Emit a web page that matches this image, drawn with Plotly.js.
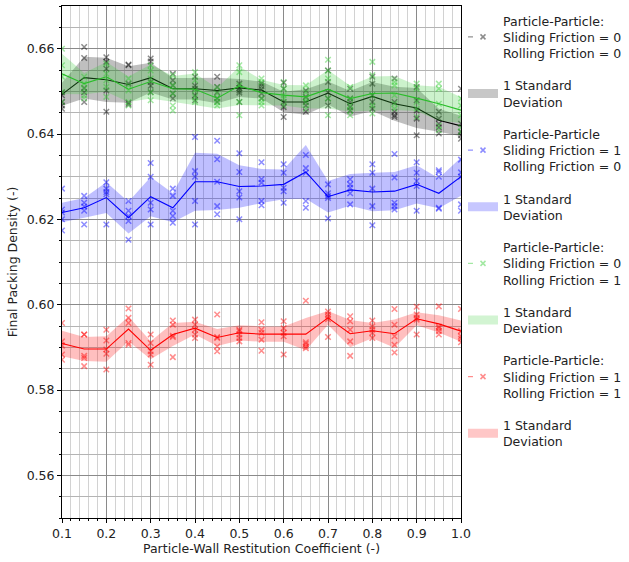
<!DOCTYPE html>
<html>
<head>
<meta charset="utf-8">
<script src="https://cdn.plot.ly/plotly-3.0.1.min.js"></script>
<style>html,body{margin:0;padding:0;background:#fff;}#chart{width:629px;height:562px;}</style>
</head>
<body>
<div id="chart"></div>
<script>
// Particle-wall restitution coefficient (x)
const restitution = [0.1, 0.15, 0.2, 0.25, 0.3, 0.35, 0.4, 0.45, 0.5, 0.55, 0.6, 0.65, 0.7, 0.75, 0.8, 0.85, 0.9, 0.95, 1.0];

// Sliding 0 / Rolling 0 (black)
const meanS0R0 = [0.6493, 0.6532, 0.6527, 0.6516, 0.6532, 0.6506, 0.6506, 0.6502, 0.6508, 0.6503, 0.6475, 0.6475, 0.6496, 0.6471, 0.6488, 0.6471, 0.6461, 0.6432, 0.6419];
const stdS0R0 = [0.0027, 0.0049, 0.0052, 0.0043, 0.0035, 0.0025, 0.0025, 0.0030, 0.0021, 0.0020, 0.0024, 0.0030, 0.0027, 0.0030, 0.0034, 0.0040, 0.0047, 0.0027, 0.0024];
const runsS0R0 = [
  [0.6498, 0.6491, 0.6475, 0.6467, 0.6459],
  [0.6604, 0.6578, 0.6508, 0.6498, 0.6475],
  [0.6580, 0.6569, 0.6553, 0.6502, 0.6452],
  [0.6563, 0.6561, 0.6518, 0.6473, 0.6469],
  [0.6577, 0.6570, 0.6522, 0.6513, 0.6498],
  [0.6541, 0.6526, 0.6514, 0.6495, 0.6483],
  [0.6534, 0.6513, 0.6506, 0.6491, 0.6479],
  [0.6534, 0.6510, 0.6498, 0.6484, 0.6475],
  [0.6518, 0.6508, 0.6502, 0.6497, 0.6475],
  [0.6518, 0.6512, 0.6505, 0.6495, 0.6483],
  [0.6520, 0.6506, 0.6475, 0.6463, 0.6440],
  [0.6502, 0.6487, 0.6475, 0.6467, 0.6452],
  [0.6549, 0.6522, 0.6498, 0.6483, 0.6467],
  [0.6506, 0.6483, 0.6475, 0.6463, 0.6455],
  [0.6534, 0.6518, 0.6491, 0.6475, 0.6459],
  [0.6530, 0.6475, 0.6452, 0.6444, 0.6440],
  [0.6510, 0.6479, 0.6455, 0.6436, 0.6397],
  [0.6452, 0.6436, 0.6424, 0.6416, 0.6401],
  [0.6506, 0.6424, 0.6405, 0.6397, 0.6389]
];

// Sliding 1 / Rolling 0 (blue)
const meanS1R0 = [0.6216, 0.6227, 0.6251, 0.6204, 0.6253, 0.6227, 0.6288, 0.6288, 0.6277, 0.6278, 0.6282, 0.6311, 0.6253, 0.6269, 0.6264, 0.6266, 0.6282, 0.6261, 0.6300];
const stdS1R0 = [0.0023, 0.0023, 0.0036, 0.0037, 0.0046, 0.0034, 0.0068, 0.0066, 0.0050, 0.0040, 0.0035, 0.0063, 0.0037, 0.0037, 0.0045, 0.0045, 0.0045, 0.0035, 0.0045];
const runsS1R0 = [
  [0.6272, 0.6223, 0.6216, 0.6200, 0.6174],
  [0.6255, 0.6239, 0.6230, 0.6220, 0.6188],
  [0.6287, 0.6272, 0.6264, 0.6259, 0.6188],
  [0.6243, 0.6220, 0.6208, 0.6196, 0.6152],
  [0.6332, 0.6300, 0.6239, 0.6223, 0.6188],
  [0.6272, 0.6255, 0.6220, 0.6208, 0.6192],
  [0.6393, 0.6313, 0.6300, 0.6243, 0.6188],
  [0.6384, 0.6341, 0.6288, 0.6231, 0.6212],
  [0.6355, 0.6311, 0.6266, 0.6251, 0.6200],
  [0.6334, 0.6294, 0.6286, 0.6243, 0.6233],
  [0.6329, 0.6309, 0.6274, 0.6266, 0.6239],
  [0.6351, 0.6320, 0.6309, 0.6243, 0.6227],
  [0.6282, 0.6261, 0.6255, 0.6250, 0.6202],
  [0.6294, 0.6282, 0.6274, 0.6261, 0.6235],
  [0.6329, 0.6309, 0.6272, 0.6231, 0.6186],
  [0.6353, 0.6298, 0.6239, 0.6231, 0.6223],
  [0.6334, 0.6309, 0.6290, 0.6278, 0.6220],
  [0.6315, 0.6311, 0.6300, 0.6227, 0.6225],
  [0.6340, 0.6310, 0.6300, 0.6235, 0.6220]
];

// Sliding 0 / Rolling 1 (green)
const meanS0R1 = [0.6541, 0.6518, 0.6534, 0.6505, 0.6523, 0.6506, 0.6505, 0.6484, 0.6513, 0.6497, 0.6491, 0.6487, 0.6505, 0.6483, 0.6495, 0.6496, 0.6484, 0.6471, 0.6456];
const stdS0R1 = [0.0047, 0.0025, 0.0035, 0.0030, 0.0040, 0.0030, 0.0037, 0.0024, 0.0045, 0.0030, 0.0024, 0.0027, 0.0045, 0.0030, 0.0040, 0.0040, 0.0030, 0.0040, 0.0030];
const runsS0R1 = [
  [0.6600, 0.6561, 0.6534, 0.6498, 0.6475],
  [0.6534, 0.6518, 0.6506, 0.6491, 0.6483],
  [0.6565, 0.6541, 0.6526, 0.6510, 0.6487],
  [0.6530, 0.6514, 0.6502, 0.6475, 0.6467],
  [0.6561, 0.6549, 0.6530, 0.6498, 0.6479],
  [0.6538, 0.6514, 0.6495, 0.6467, 0.6455],
  [0.6545, 0.6526, 0.6502, 0.6487, 0.6475],
  [0.6510, 0.6495, 0.6483, 0.6475, 0.6467],
  [0.6561, 0.6545, 0.6514, 0.6475, 0.6444],
  [0.6530, 0.6522, 0.6483, 0.6475, 0.6467],
  [0.6522, 0.6506, 0.6491, 0.6483, 0.6467],
  [0.6514, 0.6498, 0.6483, 0.6475, 0.6459],
  [0.6574, 0.6549, 0.6530, 0.6483, 0.6444],
  [0.6510, 0.6483, 0.6467, 0.6455, 0.6444],
  [0.6569, 0.6538, 0.6491, 0.6467, 0.6448],
  [0.6522, 0.6514, 0.6491, 0.6471, 0.6459],
  [0.6518, 0.6506, 0.6475, 0.6459, 0.6440],
  [0.6518, 0.6506, 0.6471, 0.6420, 0.6409],
  [0.6483, 0.6467, 0.6444, 0.6416, 0.6405]
];

// Sliding 1 / Rolling 1 (red)
const meanS1R1 = [0.5909, 0.5896, 0.5896, 0.5943, 0.5893, 0.5930, 0.5945, 0.5923, 0.5934, 0.5931, 0.5931, 0.5931, 0.5969, 0.5932, 0.5939, 0.5932, 0.5967, 0.5955, 0.5938];
const stdS1R1 = [0.0030, 0.0028, 0.0030, 0.0029, 0.0021, 0.0027, 0.0015, 0.0020, 0.0018, 0.0018, 0.0018, 0.0038, 0.0016, 0.0032, 0.0018, 0.0033, 0.0015, 0.0020, 0.0025];
const runsS1R1 = [
  [0.5957, 0.5914, 0.5904, 0.5883, 0.5871],
  [0.5930, 0.5930, 0.5880, 0.5875, 0.5856],
  [0.5941, 0.5916, 0.5895, 0.5885, 0.5848],
  [0.5991, 0.5969, 0.5957, 0.5910, 0.5906],
  [0.5930, 0.5910, 0.5891, 0.5883, 0.5859],
  [0.5963, 0.5953, 0.5927, 0.5924, 0.5877],
  [0.5965, 0.5953, 0.5941, 0.5930, 0.5922],
  [0.5977, 0.5924, 0.5922, 0.5902, 0.5891],
  [0.5941, 0.5938, 0.5930, 0.5922, 0.5914],
  [0.5959, 0.5941, 0.5934, 0.5918, 0.5892],
  [0.5961, 0.5945, 0.5934, 0.5926, 0.5883],
  [0.6009, 0.5912, 0.5908, 0.5902, 0.5898],
  [0.5984, 0.5977, 0.5971, 0.5966, 0.5924],
  [0.5973, 0.5961, 0.5941, 0.5914, 0.5880],
  [0.5963, 0.5949, 0.5941, 0.5934, 0.5922],
  [0.5990, 0.5953, 0.5926, 0.5906, 0.5888],
  [0.5995, 0.5977, 0.5969, 0.5965, 0.5930],
  [0.5996, 0.5949, 0.5945, 0.5938, 0.5930],
  [0.5990, 0.5938, 0.5926, 0.5920, 0.5912]
];

const seriesNames = [
  'Particle-Particle:<br>Sliding Friction = 0<br>Rolling Friction = 0',
  'Particle-Particle<br>Sliding Friction = 1<br>Rolling Friction = 0',
  'Particle-Particle:<br>Sliding Friction = 0<br>Rolling Friction = 1',
  'Particle-Particle:<br>Sliding Friction = 1<br>Rolling Friction = 1'
];
const bandName = '1 Standard<br>Deviation';

const FONT = 'DejaVu Sans, Verdana, sans-serif';
const styles = [
  {line: 'rgb(0,0,0)', rgb: '0,0,0'},
  {line: 'rgb(0,0,255)', rgb: '0,0,255'},
  {line: 'rgb(40,190,40)', rgb: '50,205,50'},
  {line: 'rgb(255,0,0)', rgb: '255,0,0'}
];
const series = [
  {mean: meanS0R0, std: stdS0R0, runs: runsS0R0},
  {mean: meanS1R0, std: stdS1R0, runs: runsS1R0},
  {mean: meanS0R1, std: stdS0R1, runs: runsS0R1},
  {mean: meanS1R1, std: stdS1R1, runs: runsS1R1}
];

const traces = [];
series.forEach((s, i) => {
  const st = styles[i];
  // legend entry (dash + x)
  traces.push({
    x: [null], y: [null], type: 'scatter', mode: 'lines+markers',
    name: seriesNames[i], legendgroup: 'e' + i, showlegend: true,
    line: {color: 'rgba(' + st.rgb + ',0.45)', width: 1.2, dash: '5px,200px'},
    marker: {symbol: 'x-thin', size: 5, line: {width: 1.5, color: 'rgba(' + st.rgb + ',0.45)'}},
    hoverinfo: 'skip'
  });
  // legend entry for band (patch)
  traces.push({
    x: [null], y: [null], type: 'scatter', mode: 'lines',
    name: bandName, legendgroup: 'b' + i, showlegend: true,
    line: {color: 'rgba(' + st.rgb + ',0.22)', width: 9},
    hoverinfo: 'skip'
  });
  // individual runs
  const px = [], py = [];
  s.runs.forEach((arr, k) => arr.forEach(v => { px.push(restitution[k]); py.push(v); }));
  traces.push({
    x: px, y: py, type: 'scatter', mode: 'markers', showlegend: false,
    marker: {symbol: 'x-thin', size: 5.5, line: {width: 1.5, color: 'rgba(' + st.rgb + ',0.45)'}},
    hoverinfo: 'skip'
  });
  // std band
  const upper = s.mean.map((m, k) => m + s.std[k]);
  const lower = s.mean.map((m, k) => m - s.std[k]);
  traces.push({
    x: restitution.concat(restitution.slice().reverse()),
    y: upper.concat(lower.slice().reverse()),
    type: 'scatter', mode: 'lines', fill: 'toself',
    fillcolor: 'rgba(' + st.rgb + ',0.25)',
    line: {width: 0, color: 'rgba(0,0,0,0)'},
    showlegend: false,
    hoverinfo: 'skip'
  });
  // mean line
  traces.push({
    x: restitution, y: s.mean, type: 'scatter', mode: 'lines', showlegend: false,
    line: {color: st.line, width: 1.1},
    hoverinfo: 'skip'
  });
});

const layout = {
  width: 629, height: 562,
  margin: {l: 62, r: 168, t: 6, b: 44, autoexpand: false},
  paper_bgcolor: '#fff', plot_bgcolor: '#fff',
  font: {family: FONT, size: 12.5, color: '#222'},
  showlegend: true,
  legend: {
    x: 1.005, xanchor: 'left', y: 1.0, yanchor: 'top',
    traceorder: 'grouped', tracegroupgap: 13,
    font: {family: FONT, size: 12.5, color: '#222'},
    bgcolor: 'rgba(0,0,0,0)', borderwidth: 0
  },
  xaxis: {
    range: [0.1, 1.0], dtick: 0.1, tick0: 0, tickformat: '.1f',
    showgrid: true, gridcolor: '#8a8a8a', gridwidth: 1,
    ticks: 'outside', ticklen: 4, tickcolor: '#000', tickwidth: 1,
    showline: true, linecolor: '#000', linewidth: 1, mirror: true,
    zeroline: false,
    minor: {dtick: 0.02, tick0: 0, showgrid: true, gridcolor: '#d2d2d2', gridwidth: 1, ticks: 'outside', ticklen: 2, tickcolor: '#000'},
    tickfont: {family: FONT, size: 12.5, color: '#222'},
    title: {text: 'Particle-Wall Restitution Coefficient (-)', standoff: 4, font: {family: FONT, size: 12.5, color: '#222'}}
  },
  yaxis: {
    range: [0.55, 0.67], dtick: 0.02, tick0: 0, tickformat: '.2f',
    showgrid: true, gridcolor: '#8a8a8a', gridwidth: 1,
    ticks: 'outside', ticklen: 4, tickcolor: '#000', tickwidth: 1,
    showline: true, linecolor: '#000', linewidth: 1, mirror: true,
    zeroline: false,
    minor: {dtick: 0.005, tick0: 0, showgrid: true, gridcolor: '#b4b4b4', gridwidth: 1, ticks: 'outside', ticklen: 2, tickcolor: '#000'},
    tickfont: {family: FONT, size: 12.5, color: '#222'},
    title: {text: 'Final Packing Density (-)', standoff: 6, font: {family: FONT, size: 12.5, color: '#222'}}
  }
};

Plotly.newPlot('chart', traces, layout, {staticPlot: true, displayModeBar: false});
</script>
</body>
</html>
